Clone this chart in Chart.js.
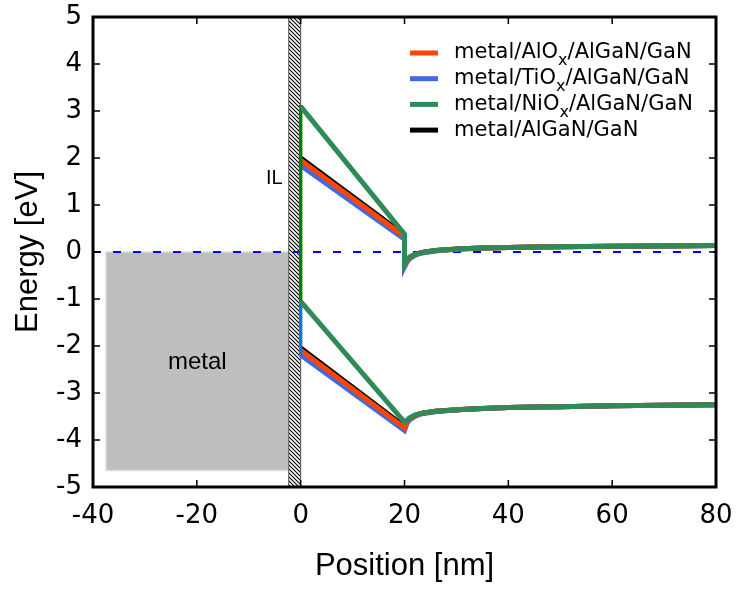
<!DOCTYPE html>
<html>
<head>
<meta charset="utf-8">
<script src="https://cdn.jsdelivr.net/npm/chart.js@4.4.0/dist/chart.umd.min.js"></script>
<style>
html, body { margin: 0; padding: 0; background: #fff; }
</style>
</head>
<body>
<canvas id="mycanvas" width="740" height="590"></canvas>
<script>
// band edges (eV) vs position (nm)
var cbPosition = [0, 20, 20, 20.5, 21, 22, 23, 24, 26, 28, 31, 35, 40, 45, 50, 60, 70, 80];
var vbPosition = [0, 20, 20.5, 21, 22, 23, 24, 26, 28, 31, 35, 40, 45, 50, 60, 70, 80];

var cbAlOx = [1.95, 0.33, -0.27, -0.18, -0.12, -0.06, -0.02, 0.00, 0.03, 0.05, 0.07, 0.085, 0.095, 0.105, 0.11, 0.12, 0.13, 0.14];
var cbTiOx = [1.84, 0.27, -0.32, -0.21, -0.14, -0.07, -0.03, -0.01, 0.02, 0.045, 0.065, 0.08, 0.095, 0.105, 0.11, 0.12, 0.13, 0.14];
var cbNiOx = [3.10, 0.38, -0.25, -0.16, -0.11, -0.05, -0.02, 0.00, 0.03, 0.05, 0.07, 0.085, 0.095, 0.105, 0.11, 0.12, 0.13, 0.14];
var cbRef  = [2.00, 0.36, -0.26, -0.17, -0.11, -0.05, -0.02, 0.00, 0.03, 0.05, 0.07, 0.085, 0.095, 0.105, 0.11, 0.12, 0.13, 0.14];

var vbAlOx = [-2.09, -3.74, -3.60, -3.54, -3.48, -3.44, -3.42, -3.39, -3.37, -3.35, -3.33, -3.31, -3.30, -3.29, -3.27, -3.26, -3.25];
var vbTiOx = [-2.19, -3.80, -3.64, -3.57, -3.50, -3.45, -3.43, -3.40, -3.38, -3.35, -3.33, -3.31, -3.30, -3.29, -3.27, -3.26, -3.25];
var vbNiOx = [-1.05, -3.62, -3.58, -3.53, -3.47, -3.44, -3.42, -3.39, -3.37, -3.35, -3.33, -3.31, -3.30, -3.29, -3.27, -3.26, -3.25];
var vbRef  = [-2.04, -3.71, -3.59, -3.54, -3.48, -3.44, -3.42, -3.39, -3.37, -3.35, -3.33, -3.31, -3.30, -3.29, -3.27, -3.26, -3.25];

// band edge inside the interlayer at x = 0
var ilEdgePosition = [0, 0];
var ilEdgeNiOx = [3.13, -1.05];
var ilEdgeTiOx = [-1.05, -2.22];

// Fermi level
var fermiPosition = [-40, 80];
var fermiEnergy = [0, 0];

// regions
var metalX = [-37.5, -2.3];
var metalE = [0, -4.65];
var ilX = [-2.3, 0];

var seriesNames = ['metal/AlOₓ/AlGaN/GaN', 'metal/TiOₓ/AlGaN/GaN', 'metal/NiOₓ/AlGaN/GaN', 'metal/AlGaN/GaN'];
var seriesColors = ['#ff4500', '#4169e1', '#2e8b57', '#000000'];

var xTicks = [-40, -20, 0, 20, 40, 60, 80];
var yTicks = [-5, -4, -3, -2, -1, 0, 1, 2, 3, 4, 5];

function pts(xs, ys) {
	var out = [];
	for (var i = 0; i < xs.length; i++) out.push({x: xs[i], y: ys[i]});
	return out;
}

function line(label, xs, ys, color, width, order) {
	return {
		label: label,
		data: pts(xs, ys),
		borderColor: color,
		backgroundColor: color,
		borderWidth: width,
		pointRadius: 0,
		showLine: true,
		fill: false,
		tension: 0,
		order: order
	};
}

function hatch(ctx) {
	var c = document.createElement('canvas');
	c.width = 4; c.height = 4;
	var p = c.getContext('2d');
	p.fillStyle = '#fff';
	p.fillRect(0, 0, 4, 4);
	p.strokeStyle = '#000';
	p.lineWidth = 1.1;
	p.beginPath();
	p.moveTo(0, 0); p.lineTo(4, 4);
	p.moveTo(-1, 3); p.lineTo(1, 5);
	p.moveTo(3, -1); p.lineTo(5, 1);
	p.stroke();
	return ctx.createPattern(c, 'repeat');
}

var regions = {
	id: 'regions',
	beforeDatasetsDraw: function(chart) {
		var ctx = chart.ctx, xs = chart.scales.x, ys = chart.scales.y;
		ctx.save();
		// metal block
		var x0 = xs.getPixelForValue(metalX[0]), x1 = xs.getPixelForValue(metalX[1]);
		var y0 = ys.getPixelForValue(metalE[0]), y1 = ys.getPixelForValue(metalE[1]);
		ctx.fillStyle = '#bebebe';
		ctx.fillRect(x0, y0, x1 - x0, y1 - y0);
		ctx.strokeStyle = '#dcdcdc';
		ctx.lineWidth = 1.5;
		ctx.strokeRect(x0, y0, x1 - x0, y1 - y0);
		ctx.fillStyle = '#000';
		ctx.font = '24px "Liberation Sans", Arial, sans-serif';
		ctx.textAlign = 'center';
		ctx.textBaseline = 'middle';
		ctx.fillText('metal', (x0 + x1) / 2, ys.getPixelForValue(-2.35));
		// interlayer
		var a = xs.getPixelForValue(ilX[0]), b = xs.getPixelForValue(ilX[1]);
		var top = chart.chartArea.top, bot = chart.chartArea.bottom;
		ctx.fillStyle = hatch(ctx);
		ctx.fillRect(a, top, b - a, bot - top);
		ctx.strokeStyle = '#555';
		ctx.lineWidth = 1;
		ctx.strokeRect(a, top, b - a, bot - top);
		ctx.fillStyle = '#000';
		ctx.font = '20px "Liberation Sans", Arial, sans-serif';
		ctx.textAlign = 'right';
		ctx.fillText('IL', a - 6, ys.getPixelForValue(1.57));
		ctx.restore();
	}
};

var frame = {
	id: 'frame',
	afterDatasetsDraw: function(chart) {
		var ctx = chart.ctx, ca = chart.chartArea, xs = chart.scales.x, ys = chart.scales.y;
		var tl = 7;
		ctx.save();
		ctx.strokeStyle = '#000';
		ctx.lineWidth = 1.5;
		ctx.beginPath();
		xTicks.forEach(function(v) {
			var px = xs.getPixelForValue(v);
			ctx.moveTo(px, ca.bottom); ctx.lineTo(px, ca.bottom - tl);
			ctx.moveTo(px, ca.top); ctx.lineTo(px, ca.top + tl);
		});
		yTicks.forEach(function(v) {
			var py = ys.getPixelForValue(v);
			ctx.moveTo(ca.left, py); ctx.lineTo(ca.left + tl, py);
			ctx.moveTo(ca.right, py); ctx.lineTo(ca.right - tl, py);
		});
		ctx.stroke();
		ctx.lineWidth = 3;
		ctx.strokeRect(ca.left, ca.top, ca.right - ca.left, ca.bottom - ca.top);
		ctx.restore();
	}
};

var legendBox = {
	id: 'legendBox',
	afterDraw: function(chart) {
		var ctx = chart.ctx;
		var lx0 = 410, lx1 = 438, tx = 454, y = 53, dy = 25.7;
		ctx.save();
		ctx.textBaseline = 'middle';
		ctx.textAlign = 'left';
		seriesNames.forEach(function(name, i) {
			var yy = y + i * dy;
			ctx.strokeStyle = seriesColors[i];
			ctx.lineWidth = 5;
			ctx.beginPath();
			ctx.moveTo(lx0, yy); ctx.lineTo(lx1, yy);
			ctx.stroke();
			ctx.fillStyle = '#000';
			var parts = name.split('ₓ');
			var x = tx;
			for (var k = 0; k < parts.length; k++) {
				ctx.font = '21px "DejaVu Sans", sans-serif';
				ctx.fillText(parts[k], x, yy);
				x += ctx.measureText(parts[k]).width;
				if (k < parts.length - 1) {
					ctx.font = '16px "DejaVu Sans", sans-serif';
					ctx.fillText('x', x, yy + 8);
					x += ctx.measureText('x').width;
				}
			}
		});
		ctx.restore();
	}
};

var datasets = [
	line(seriesNames[2] + ' CB', cbPosition, cbNiOx, seriesColors[2], 5, 0),
	line(seriesNames[2] + ' VB', vbPosition, vbNiOx, seriesColors[2], 5, 0),
	line('IL edge NiOx', ilEdgePosition, ilEdgeNiOx, '#008000', 3.5, 1),
	line('IL edge TiOx', ilEdgePosition, ilEdgeTiOx, '#1874cd', 3.5, 2),
	line(seriesNames[0] + ' CB', cbPosition, cbAlOx, seriesColors[0], 5, 3),
	line(seriesNames[0] + ' VB', vbPosition, vbAlOx, seriesColors[0], 5, 3),
	line(seriesNames[1] + ' CB', cbPosition, cbTiOx, seriesColors[1], 5, 4),
	line(seriesNames[1] + ' VB', vbPosition, vbTiOx, seriesColors[1], 5, 4),
	line(seriesNames[3] + ' CB', cbPosition, cbRef, seriesColors[3], 5, 5),
	line(seriesNames[3] + ' VB', vbPosition, vbRef, seriesColors[3], 5, 5)
];
var fermi = line('Fermi level', fermiPosition, fermiEnergy, '#0000ff', 2, 6);
fermi.borderDash = [8, 12];
datasets.push(fermi);

var tickFont = { family: '"DejaVu Sans", sans-serif', size: 26 };
var titleFont = { family: '"Liberation Sans", Arial, sans-serif', size: 31 };

function noOverflow(s) {
	s.paddingTop = 0; s.paddingBottom = 0; s.paddingLeft = 0; s.paddingRight = 0;
}

var ctx = document.getElementById('mycanvas');
var bandChart = new Chart(ctx, {
	type: 'scatter',
	data: { datasets: datasets },
	plugins: [regions, frame, legendBox],
	options: {
		responsive: false,
		animation: false,
		devicePixelRatio: 1,
		layout: { padding: { top: 17, right: 24, left: 0, bottom: 0 } },
		plugins: { legend: { display: false }, tooltip: { enabled: false } },
		scales: {
			x: {
				type: 'linear', min: -40, max: 80,
				afterBuildTicks: function(s) { s.ticks = xTicks.map(function(v) { return {value: v}; }); },
				afterFit: function(s) { s.height = 103; noOverflow(s); },
				grid: { display: false, drawTicks: false },
				border: { display: false },
				ticks: { color: '#000', font: tickFont, padding: 14, maxRotation: 0 },
				title: { display: true, text: 'Position [nm]', color: '#000', font: titleFont, padding: { top: 0, bottom: 5 } }
			},
			y: {
				type: 'linear', min: -5, max: 5,
				afterBuildTicks: function(s) { s.ticks = yTicks.map(function(v) { return {value: v}; }); },
				afterFit: function(s) { s.width = 93; noOverflow(s); },
				grid: { display: false, drawTicks: false },
				border: { display: false },
				ticks: { color: '#000', font: tickFont, padding: 11 },
				title: { display: true, text: 'Energy [eV]', color: '#000', font: titleFont, padding: { top: 10, bottom: 0 } }
			}
		}
	}
});
</script>
</body>
</html>
